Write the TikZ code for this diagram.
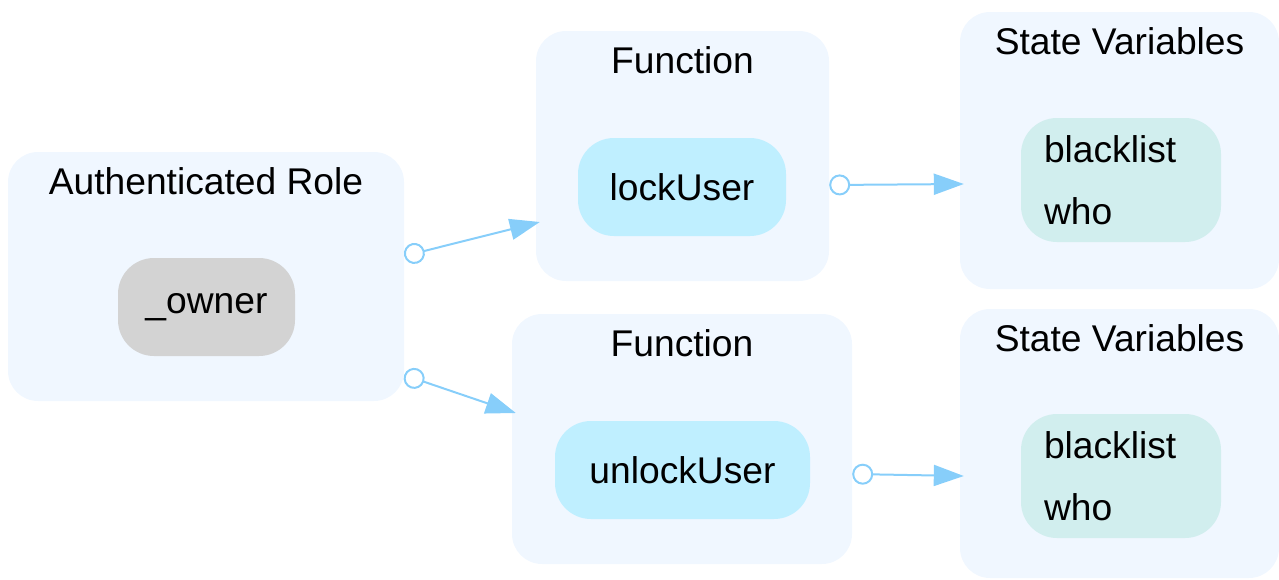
\documentclass[tikz,border=0pt]{standalone}
\usepackage{fontspec}
\setmainfont{Liberation Sans}
\usetikzlibrary{arrows.meta}
\definecolor{clusterbg}{HTML}{F0F7FF}
\definecolor{rolefill}{HTML}{D3D3D3}
\definecolor{funcfill}{HTML}{BFEFFF}
\definecolor{varfill}{HTML}{D1EEEE}
\definecolor{edgeblue}{HTML}{87CEFA}

\begin{document}
\begin{tikzpicture}[x=1pt,y=-1pt,font=\fontsize{37.2}{62}\selectfont]
    \tikzstyle{cluster}=[rounded corners=30pt,fill=clusterbg,inner sep=0pt]
    \tikzstyle{title}=[inner sep=0pt]
    \tikzstyle{vertex}=[rounded corners=36pt,minimum height=98pt,inner sep=0pt]
    \tikzstyle{varlist}=[vertex,fill=varfill,text width=154pt,align=left,inner xsep=23pt,minimum height=124pt]
    \tikzstyle{edge}=[draw=edgeblue,line width=2pt,{Circle[open,length=21pt,width=21pt]}-{Triangle[length=30pt,width=21pt]}]
    \useasboundingbox (0,0) rectangle (1279,579);

    % clusters
    \node[cluster,minimum width=396pt,minimum height=249pt] (role) at (206,276.5) {};
    \node[cluster,minimum width=293pt,minimum height=250pt] (fnA) at (682.5,156) {};
    \node[cluster,minimum width=340pt,minimum height=250pt] (fnB) at (682,439) {};
    \node[cluster,minimum width=319pt,minimum height=277pt] (svA) at (1119.5,150.5) {};
    \node[cluster,minimum width=319pt,minimum height=269pt] (svB) at (1119.5,443.5) {};

    \foreach \c/\t in {role/Authenticated Role, fnA/Function, fnB/Function, svA/State Variables, svB/State Variables}
        \node[title] (\c-title) at ([yshift=-29pt]\c.north) {\t};

    % nodes
    \node[vertex,fill=rolefill,minimum width=177pt] (owner) at (206.5,307) {\_owner};
    \node[vertex,fill=funcfill,minimum width=208pt] (lockUser) at (682,187) {lockUser};
    \node[vertex,fill=funcfill,minimum width=255pt] (unlockUser) at (682.5,470) {unlockUser};
    \node[varlist] (varsA) at (1121,180) {blacklist\\who};
    \node[varlist] (varsB) at (1121,476) {blacklist\\who};

    \foreach \from/\fs/\to/\ts in {role/20.5/fnA/-66, role/-98.5/fnB/26, fnA/-29/svA/-33.5, fnB/-35/svB/-32.5}
        \draw[edge] ([yshift=\fs pt]\from.east) -- ([yshift=\ts pt,xshift=4pt]\to.west);
\end{tikzpicture}
\end{document}
